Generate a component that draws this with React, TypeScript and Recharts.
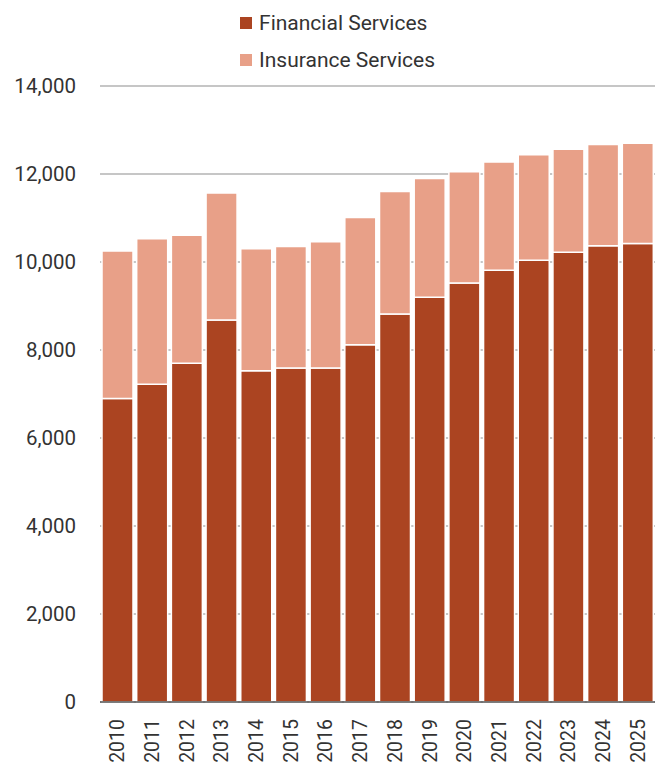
import React from 'react';
import {
  BarChart,
  Bar,
  XAxis,
  YAxis,
  CartesianGrid,
  Legend
} from 'recharts';

const years = ['2010', '2011', '2012', '2013', '2014', '2015', '2016', '2017', '2018', '2019', '2020', '2021', '2022', '2023', '2024', '2025'];
const financial = [6900, 7220, 7700, 8680, 7530, 7590, 7590, 8120, 8820, 9200, 9520, 9810, 10040, 10220, 10370, 10420];
const insurance = [3350, 3310, 2910, 2890, 2770, 2760, 2870, 2890, 2780, 2700, 2530, 2460, 2400, 2340, 2300, 2280];
const yTicks = [0, 2000, 4000, 6000, 8000, 10000, 12000, 14000];

const FIN_COLOR = '#AB4421';
const INS_COLOR = '#E8A088';
const FONT = 'Roboto, sans-serif';

const data = years.map((year, i) => ({
  year,
  financial: financial[i],
  insurance: insurance[i]
}));

const legendItems = [
  { label: 'Financial Services', color: FIN_COLOR },
  { label: 'Insurance Services', color: INS_COLOR }
];

const LegendBox = () => (
  <div style={{ display: 'flex', justifyContent: 'center', paddingLeft: 20 }}>
    <div style={{ fontFamily: FONT, fontSize: 21, color: '#333' }}>
      {legendItems.map(item => (
        <div key={item.label} style={{ display: 'flex', alignItems: 'center', height: 37 }}>
          <span style={{ width: 12, height: 12, background: item.color, marginRight: 7, display: 'inline-block' }} />
          <span>{item.label}</span>
        </div>
      ))}
    </div>
  </div>
);

// years drawn vertically, reading bottom to top
const YearTick = (props: any) => {
  const { x, y, payload } = props;
  return (
    <text
      x={x}
      y={y}
      transform={`rotate(-90, ${x}, ${y})`}
      dx={-9}
      dy={7}
      textAnchor="end"
      fontFamily={FONT}
      fontSize={19.5}
      fill="#333"
    >
      {payload.value}
    </text>
  );
};

export default function App() {
  return (
    <div style={{ position: 'fixed', top: 0, left: 0, width: 655, height: 768, background: '#fff' }}>
      <BarChart
        width={655}
        height={768}
        data={data}
        barCategoryGap={2}
        margin={{ top: 12, right: 0, left: 0, bottom: 0 }}
      >
        <CartesianGrid vertical={false} stroke="#b3b3b3" strokeWidth={1.5} />
        <XAxis
          dataKey="year"
          tick={<YearTick />}
          tickLine={false}
          axisLine={{ stroke: '#555', strokeWidth: 1.5 }}
          height={66}
          interval={0}
        />
        <YAxis
          domain={[0, 14000]}
          ticks={yTicks}
          width={100}
          axisLine={false}
          tickLine={false}
          tickMargin={18}
          tickFormatter={(v: number) => v.toLocaleString('en-US')}
          tick={{ fontFamily: FONT, fontSize: 20.5, fill: '#333' }}
        />
        <Legend
          layout="vertical"
          align="center"
          verticalAlign="top"
          content={<LegendBox />}
          wrapperStyle={{ top: 4, left: 0, width: 655 }}
        />
        <Bar dataKey="financial" stackId="a" fill={FIN_COLOR} stroke="#fff" strokeWidth={1.5} isAnimationActive={false} />
        <Bar dataKey="insurance" stackId="a" fill={INS_COLOR} stroke="#fff" strokeWidth={1.5} isAnimationActive={false} />
      </BarChart>
    </div>
  );
}
